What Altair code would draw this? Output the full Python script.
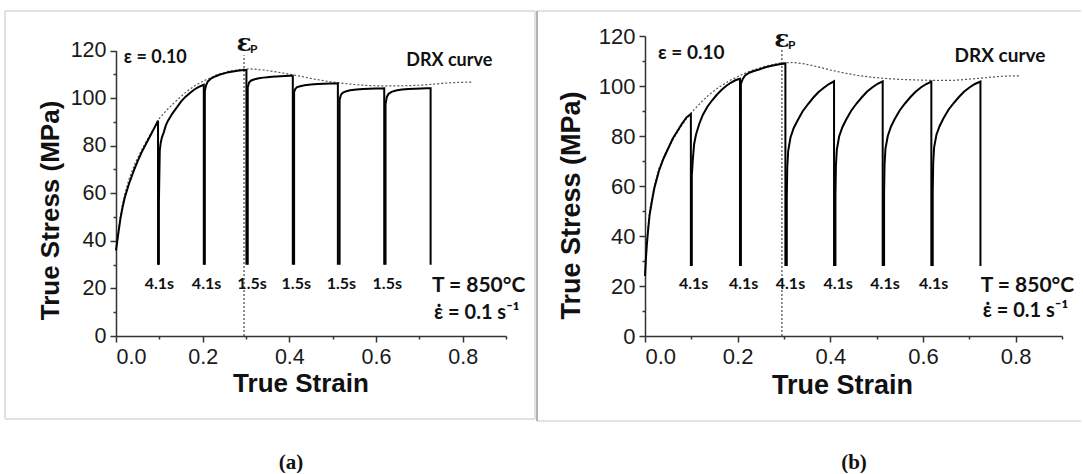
import altair as alt
import pandas as pd

# ---------------- Panel (a): interrupted passes, 4.1 s / 1.5 s holds ----------------
A_P1_X = [0.0, 0.003, 0.006, 0.01, 0.015, 0.02, 0.03, 0.04, 0.05, 0.06, 0.07, 0.08, 0.09, 0.097, 0.097]
A_P1_Y = [36, 40, 44, 49, 54, 58, 64, 69, 73.5, 77.5, 81, 84.5, 88, 90.5, 30]
A_P2_X = [0.099, 0.099, 0.1, 0.101, 0.103, 0.106, 0.11, 0.115, 0.12, 0.13, 0.14, 0.15, 0.16, 0.17, 0.18, 0.19, 0.2, 0.2026, 0.2026]
A_P2_Y = [30, 56, 67, 78, 81, 83.5, 85.5, 88.5, 90.5, 93.5, 96, 98.5, 100.5, 102, 103.5, 104.6, 105.4, 105.6, 30]
A_P3_X = [0.205, 0.205, 0.208, 0.212, 0.22, 0.23, 0.24, 0.25, 0.26, 0.27, 0.28, 0.29, 0.298, 0.301, 0.301]
A_P3_Y = [30, 103, 105.5, 107, 108.3, 109.2, 109.9, 110.4, 110.9, 111.2, 111.5, 111.7, 111.8, 111.8, 30]
A_P4_X = [0.304, 0.304, 0.307, 0.312, 0.32, 0.33, 0.34, 0.35, 0.36, 0.37, 0.38, 0.39, 0.4, 0.408, 0.408]
A_P4_Y = [30, 104.4, 106.5, 107.4, 107.9, 108.3, 108.6, 108.8, 109.0, 109.1, 109.2, 109.3, 109.35, 109.4, 30]
A_P5_X = [0.411, 0.411, 0.414, 0.418, 0.425, 0.435, 0.45, 0.465, 0.48, 0.495, 0.505, 0.512, 0.512]
A_P5_Y = [30, 102.6, 103.9, 104.6, 105.0, 105.4, 105.7, 105.9, 106.0, 106.1, 106.15, 106.2, 30]
A_P6_X = [0.516, 0.516, 0.519, 0.523, 0.53, 0.54, 0.555, 0.57, 0.585, 0.6, 0.612, 0.619, 0.619]
A_P6_Y = [30, 99.3, 101.3, 102.2, 102.8, 103.3, 103.6, 103.8, 103.9, 104.0, 104.05, 104.1, 30]
A_P7_X = [0.622, 0.622, 0.625, 0.629, 0.636, 0.646, 0.66, 0.675, 0.69, 0.705, 0.717, 0.726, 0.726]
A_P7_Y = [30, 97.5, 100.5, 101.8, 102.6, 103.2, 103.6, 103.8, 103.9, 104.0, 104.1, 104.1, 30]

A_DRX_X = [0.0, 0.005, 0.012, 0.02, 0.03, 0.045, 0.06, 0.075, 0.09, 0.1, 0.12, 0.14, 0.16, 0.18, 0.2, 0.23,
           0.26, 0.29, 0.31, 0.34, 0.37, 0.4, 0.43, 0.46, 0.49, 0.52, 0.55, 0.58, 0.61, 0.64, 0.67, 0.7,
           0.73, 0.76, 0.79, 0.82]
A_DRX_Y = [36, 44, 52.5, 59.5, 66, 73, 78.5, 83.5, 88, 91.5, 95.5, 99, 102.3, 105, 107, 109.6,
           111.3, 112.1, 112.3, 111.8, 111, 110.1, 109, 107.9, 107, 106.3, 105.7, 105.3, 105.1, 105.1, 105.2, 105.4,
           105.8, 106.3, 106.6, 106.7]
A_TIMES = ["4.1s", "4.1s", "1.5s", "1.5s", "1.5s", "1.5s"]
A_TIME_X = [0.1, 0.209, 0.314, 0.416, 0.52, 0.626]

# ---------------- Panel (b): interrupted passes, all 4.1 s holds ----------------
B_P1_X = [0.0, 0.002, 0.004, 0.007, 0.01, 0.015, 0.02, 0.03, 0.04, 0.05, 0.06, 0.07, 0.08, 0.09, 0.099, 0.099]
B_P1_Y = [24, 31, 36.5, 43, 48.5, 54, 59, 66, 71, 75, 79, 82, 85, 87.5, 88.8, 28]
B_P2_X = [0.101, 0.101, 0.103, 0.106, 0.11, 0.117, 0.125, 0.135, 0.145, 0.155, 0.165, 0.175, 0.185, 0.195, 0.203, 0.205, 0.205]
B_P2_Y = [28, 64, 70, 76.7, 80.5, 84.8, 88.5, 91.8, 94.3, 96.5, 98.4, 100, 101.3, 102.3, 102.8, 102.9, 28]
B_P3_X = [0.207, 0.207, 0.211, 0.216, 0.225, 0.235, 0.246, 0.26, 0.276, 0.29, 0.303, 0.303]
B_P3_Y = [28, 100.8, 102.8, 104.2, 105.3, 106.0, 106.6, 107.5, 108.2, 108.7, 109.0, 28]
B_P4_X = [0.306, 0.306, 0.307, 0.309, 0.314, 0.321, 0.329, 0.34, 0.352, 0.363, 0.374, 0.386, 0.397, 0.408, 0.408]
B_P4_Y = [28, 55, 67.4, 74, 79.4, 83.2, 86.1, 89.8, 92.8, 95.3, 97.5, 99.3, 100.8, 101.9, 28]
B_P5_X = [0.411, 0.411, 0.412, 0.414, 0.419, 0.426, 0.434, 0.445, 0.457, 0.468, 0.479, 0.491, 0.502, 0.513, 0.513]
B_P5_Y = [28, 56, 68, 74.5, 79.8, 83.5, 86.5, 90.1, 93.1, 95.5, 97.7, 99.5, 100.9, 101.9, 28]
B_P6_X = [0.516, 0.516, 0.517, 0.519, 0.524, 0.531, 0.539, 0.55, 0.562, 0.573, 0.584, 0.596, 0.607, 0.618, 0.618]
B_P6_Y = [28, 57, 68.5, 75, 80, 83.8, 86.8, 90.3, 93.2, 95.6, 97.7, 99.5, 100.8, 101.8, 28]
B_P7_X = [0.621, 0.621, 0.622, 0.624, 0.629, 0.636, 0.644, 0.655, 0.667, 0.678, 0.689, 0.701, 0.712, 0.724, 0.724]
B_P7_Y = [28, 58, 69, 75.5, 80.5, 84, 87, 90.5, 93.3, 95.7, 97.8, 99.5, 100.8, 101.8, 28]

B_DRX_X = [0.0, 0.004, 0.01, 0.02, 0.03, 0.045, 0.06, 0.075, 0.09, 0.1, 0.12, 0.14, 0.16, 0.185, 0.21, 0.23,
           0.26, 0.29, 0.32, 0.345, 0.37, 0.4, 0.43, 0.46, 0.49, 0.52, 0.555, 0.59, 0.63, 0.67, 0.71, 0.74,
           0.77, 0.8, 0.81]
B_DRX_Y = [24, 38, 50, 60, 67, 73.5, 78.5, 83, 87, 89.3, 93.3, 96.8, 99.6, 102.4, 104.6, 106.2,
           107.9, 109.2, 109.4, 108.8, 107.8, 106.4, 105.2, 104.2, 103.5, 103.0, 102.6, 102.4, 102.2, 102.3, 102.9, 103.4,
           103.9, 104.1, 104.0]
B_TIMES = ["4.1s", "4.1s", "4.1s", "4.1s", "4.1s", "4.1s"]
B_TIME_X = [0.105, 0.213, 0.314, 0.417, 0.518, 0.623]

X_TICKS = [0.0, 0.1, 0.2, 0.3, 0.4, 0.5, 0.6, 0.7, 0.8, 0.9]
Y_TICKS = [0, 10, 20, 30, 40, 50, 60, 70, 80, 90, 100, 110, 120]

A_PASSES = [(A_P1_X, A_P1_Y), (A_P2_X, A_P2_Y), (A_P3_X, A_P3_Y), (A_P4_X, A_P4_Y),
            (A_P5_X, A_P5_Y), (A_P6_X, A_P6_Y), (A_P7_X, A_P7_Y)]
B_PASSES = [(B_P1_X, B_P1_Y), (B_P2_X, B_P2_Y), (B_P3_X, B_P3_Y), (B_P4_X, B_P4_Y),
            (B_P5_X, B_P5_Y), (B_P6_X, B_P6_Y), (B_P7_X, B_P7_Y)]


def pass_frame(passes):
    rows = []
    for i, (xs, ys) in enumerate(passes):
        for j, (x, y) in enumerate(zip(xs, ys)):
            rows.append({"pass": i + 1, "order": j, "strain": x, "stress": y})
    return pd.DataFrame(rows)


LABEL_FONT = "Lato"
AXIS_FONT = "Liberation Sans"


def panel(passes, drx_x, drx_y, times, time_x, c):
    W, H = c["w"], 300
    xs = alt.Scale(domain=[0, 0.9], nice=False, zero=False)
    ys = alt.Scale(domain=[0, 120], nice=False, range=[H, c["ytop"]])
    xax = alt.Axis(values=X_TICKS, grid=False,
                   labelExpr="round(datum.value*10) % 2 == 0 ? format(datum.value, '.1f') : ''",
                   tickSize={"condition": {"test": "round(datum.value*10) % 2 == 0", "value": 6}, "value": 3},
                   labelFont=AXIS_FONT, labelFontSize=c["lfs"], labelColor="#1a1a1a", labelPadding=4,
                   domainColor="#333", domainWidth=1.5, tickColor="#333", tickWidth=1.5,
                   titleFont=AXIS_FONT, titleFontWeight="bold", titleFontSize=c["tfs"], titleColor="#111",
                   titleX=c["xtx"], titleY=c["xty"], titleAlign="center", titleBaseline="middle")
    yax = alt.Axis(values=Y_TICKS, grid=False,
                   labelExpr="datum.value % 20 == 0 ? datum.label : ''",
                   tickSize={"condition": {"test": "datum.value % 20 == 0", "value": 6}, "value": 3},
                   labelFont=AXIS_FONT, labelFontSize=c["lfs"], labelColor="#1a1a1a", labelPadding=4,
                   domainColor="#333", domainWidth=1.5, tickColor="#333", tickWidth=1.5,
                   titleFont=AXIS_FONT, titleFontWeight="bold", titleFontSize=c["tfs"], titleColor="#111",
                   titleX=c["ytx"], titleY=c["yty"], titleAngle=-90, titleAlign="center",
                   titleBaseline="middle")
    X = alt.X("strain:Q", scale=xs, axis=xax, title="True Strain")
    Y = alt.Y("stress:Q", scale=ys, axis=yax, title="True Stress (MPa)")

    one = pd.DataFrame({"k": [0]})
    box = c["box"](one)

    lines = alt.Chart(pass_frame(passes)).mark_line(color="black", strokeWidth=2, clip=False).encode(
        x=X, y=Y, detail="pass:N", order="order:Q")
    drx = alt.Chart(pd.DataFrame({"strain": drx_x, "stress": drx_y})).mark_line(
        color="#555", strokeWidth=1.2, strokeDash=[2, 2]).encode(x=X, y=Y)
    ep = alt.Chart(pd.DataFrame({"strain": [c["ep_x"]], "stress": [0], "top": [c["ep_top"]]})).mark_rule(
        color="#444", strokeWidth=1.2, strokeDash=[2, 2]).encode(x=X, y=Y, y2="top:Q")
    ep_eps = alt.Chart(pd.DataFrame({"strain": [c["ep_x"]], "stress": [c["ep_y"]], "t": ["ε"]})).mark_text(
        font="DejaVu Serif", fontWeight="bold", fontSize=25, color="#111", align="center",
        baseline="middle").encode(x=X, y=Y, text="t:N")
    ep_sub = alt.Chart(pd.DataFrame({"strain": [c["ep_x"]], "stress": [c["ep_y"]], "t": ["P"]})).mark_text(
        font=LABEL_FONT, fontWeight="bold", fontSize=12, color="#111", align="left", baseline="middle",
        dx=6, dy=6).encode(x=X, y=Y, text="t:N")

    tdf = pd.DataFrame({"strain": time_x, "stress": [c["time_y"]] * len(time_x), "t": times})
    tlab = alt.Chart(tdf).mark_text(font=LABEL_FONT, fontWeight="bold", fontSize=c["tls"], color="#111",
                                    align="center", baseline="middle").encode(x=X, y=Y, text="t:N")

    ann = pd.DataFrame({
        "strain": c["ann_x"], "stress": c["ann_y"],
        "t": ["ε = 0.10", "DRX curve", "T = 850°C", "ε̇ = 0.1 s⁻¹"],
        "a": ["left", "center", "left", "left"],
    })
    anns = []
    for i in range(len(ann)):
        anns.append(alt.Chart(ann.iloc[[i]]).mark_text(
            font=LABEL_FONT, fontWeight="bold", fontSize=c["afs"][i], color="#111",
            align=ann["a"][i], baseline="middle").encode(x=X, y=Y, text="t:N"))

    cap = alt.Chart(one).mark_text(font="Liberation Serif", fontWeight="bold", fontSize=21,
                                   color="#111").encode(
        x=alt.value(c["cap_x"]), y=alt.value(c["cap_y"]), text=alt.value(c["cap"]))

    return alt.layer(box, drx, ep, lines, ep_eps, ep_sub, tlab, *anns, cap).properties(width=W, height=H)


def box_a(one):
    return alt.Chart(one).mark_rect(fill=None, stroke="#c4c4c4", strokeWidth=1).encode(
        x=alt.value(-111), x2=alt.value(419), y=alt.value(-25), y2=alt.value(383))


def box_b(one):
    left = alt.Chart(one).mark_rule(color="#808080", strokeWidth=1.2).encode(
        x=alt.value(-108), y=alt.value(-25), y2=alt.value(385))
    top = alt.Chart(one).mark_rule(color="#c4c4c4", strokeWidth=1).encode(
        x=alt.value(-108), x2=alt.value(436), y=alt.value(-25))
    bottom = alt.Chart(one).mark_rule(color="#c4c4c4", strokeWidth=1).encode(
        x=alt.value(-108), x2=alt.value(436), y=alt.value(385))
    return alt.layer(left, top, bottom)


cfg_a = dict(w=390, ytop=14.5, lfs=21.5, tfs=26, xtx=184.5, xty=47, ytx=-65.5, yty=174,
             box=box_a, ep_x=0.2955, ep_top=118, ep_y=123,
             time_y=21.8, tls=16, ann_x=[0.018, 0.769, 0.729, 0.734], ann_y=[116.8, 115.6, 21, 9.7],
             afs=[18, 18, 21, 20], cap="(a)", cap_x=175, cap_y=427)
cfg_b = dict(w=417, ytop=0, lfs=22, tfs=27, xtx=197, xty=49, ytx=-74, yty=169,
             box=box_b, ep_x=0.2955, ep_top=115, ep_y=118.8,
             time_y=20.9, tls=16, ann_x=[0.028, 0.766, 0.7245, 0.729], ann_y=[113.4, 112, 20, 10],
             afs=[19, 19, 21, 20], cap="(b)", cap_x=209, cap_y=427)

left = panel(A_PASSES, A_DRX_X, A_DRX_Y, A_TIMES, A_TIME_X, cfg_a)
right = panel(B_PASSES, B_DRX_X, B_DRX_Y, B_TIMES, B_TIME_X, cfg_b)

chart = alt.hconcat(left, right, spacing=0).properties(
    padding={"left": 4, "top": 10, "right": 0, "bottom": 0},
    background="white",
).configure_view(stroke=None)

chart.save("out.html", embed_options={"renderer": "svg", "actions": False})
